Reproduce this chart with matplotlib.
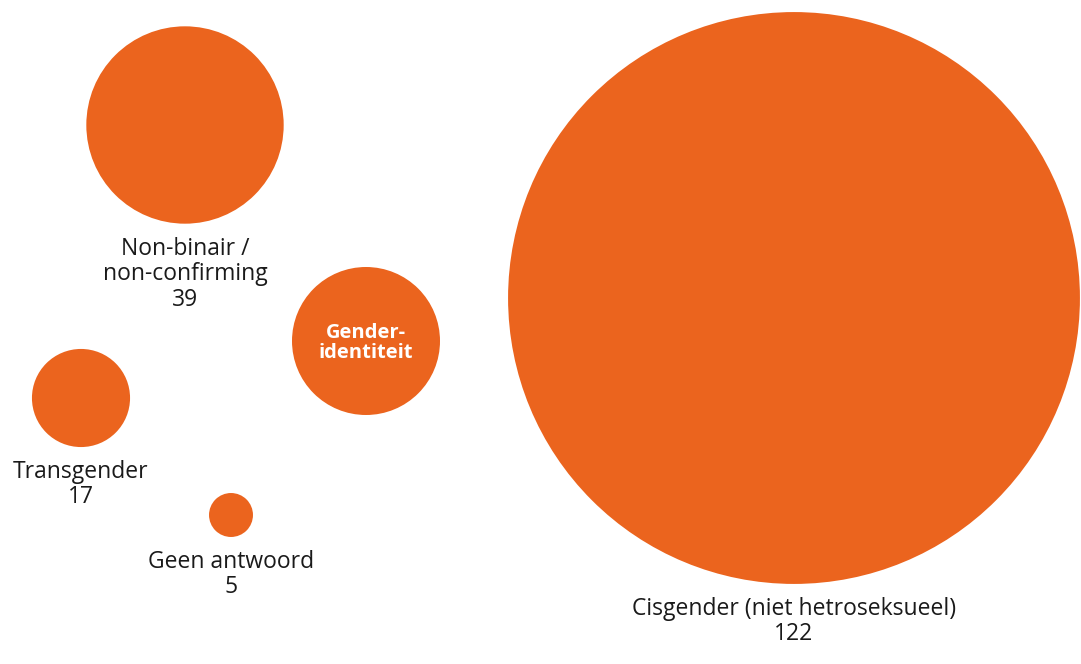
import matplotlib
matplotlib.use("Agg")
import matplotlib.pyplot as plt
from matplotlib.patches import Circle

# Data
categories = ["Cisgender (niet hetroseksueel)", "Non-binair /\nnon-confirming", "Transgender", "Geen antwoord"]
values = [122, 39, 17, 5]
center_title = "Gender-\nidentiteit"

# Layout (pixel coordinates of bubble centres)
centers = [(794, 298), (185, 125), (81, 398), (231, 515)]
center_pos = (366, 341)
center_r = 74

def radius(v):
    return 10.7 + 2.256 * v

color = "#EB641E"
text_color = "#1a1a1a"

W, H = 1081, 664
fig = plt.figure(figsize=(W / 100, H / 100), dpi=100)
ax = fig.add_axes([0, 0, 1, 1])
ax.set_xlim(0, W)
ax.set_ylim(H, 0)
ax.set_aspect("equal")
ax.axis("off")

fam = ["Open Sans", "DejaVu Sans"]

for cat, v, (cx, cy) in zip(categories, values, centers):
    r = radius(v)
    ax.add_patch(Circle((cx, cy), r, color=color, lw=0))
    ax.text(cx, cy + r + 13, f"{cat}\n{v}", ha="center", va="top",
            fontsize=16.5, family=fam, weight="normal", color=text_color,
            linespacing=1.08)

ax.add_patch(Circle(center_pos, center_r, color=color, lw=0))
ax.text(center_pos[0], center_pos[1] + 2, center_title, ha="center", va="center",
        fontsize=14.5, family=fam, weight="bold", color="white", linespacing=1.0)

fig.savefig("out.png", dpi=100)
